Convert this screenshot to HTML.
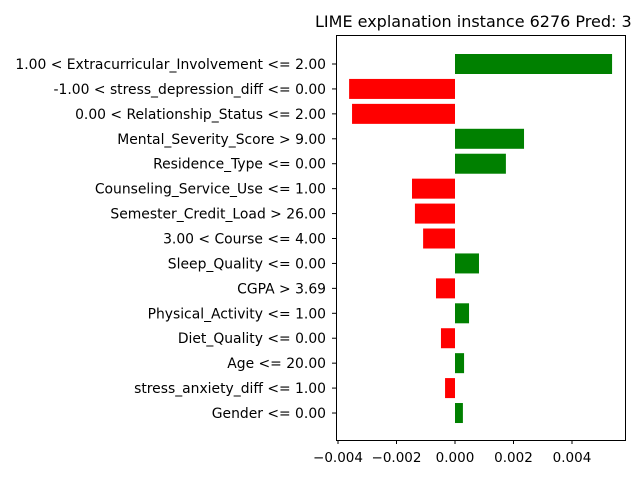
<!DOCTYPE html>
<html><head><meta charset="utf-8"><style>
body{margin:0;background:#fff;width:640px;height:480px;overflow:hidden}
svg text{font-family:"DejaVu Sans","Liberation Sans",sans-serif}
</style></head><body>
<svg id="chart" width="640" height="480">
<text x="315" y="27" font-size="16">LIME explanation instance 6276 Pred: 3</text>
<g id="bars"></g>
<g id="yt"></g>
<g id="xt"></g>
<rect x="336.5" y="35.5" width="289" height="405" fill="none" stroke="#000" stroke-width="1"/>
</svg>
<script>
const labels=["1.00 < Extracurricular_Involvement <= 2.00","-1.00 < stress_depression_diff <= 0.00","0.00 < Relationship_Status <= 2.00","Mental_Severity_Score > 9.00","Residence_Type <= 0.00","Counseling_Service_Use <= 1.00","Semester_Credit_Load > 26.00","3.00 < Course <= 4.00","Sleep_Quality <= 0.00","CGPA > 3.69","Physical_Activity <= 1.00","Diet_Quality <= 0.00","Age <= 20.00","stress_anxiety_diff <= 1.00","Gender <= 0.00"];
const values=[0.00537,-0.00362,-0.00352,0.00236,0.00174,-0.00147,-0.00137,-0.00109,0.00082,-0.00065,0.00048,-0.00048,0.00031,-0.00034,0.00027];
const xticks=[-0.004,-0.002,0,0.002,0.004];
const xtickLabels=["−0.004","−0.002","0.000","0.002","0.004"];
const NS="http://www.w3.org/2000/svg";
const x=v=>455+v*29250;
const y=i=>64+i*24.93;
const bh=20;
const gb=document.getElementById('bars'),gy=document.getElementById('yt'),gx=document.getElementById('xt');
values.forEach((v,i)=>{
 const r=document.createElementNS(NS,'rect');
 
 
 r.setAttribute('x',Math.min(x(0),x(v)));r.setAttribute('y',y(i)-bh/2);
 r.setAttribute('width',Math.abs(x(v)-x(0)));r.setAttribute('height',bh);
 r.setAttribute('fill',v>=0?'#008000':'#ff0000');gb.appendChild(r);
 const t=document.createElementNS(NS,'line');
 
 
 t.setAttribute('x1',332);t.setAttribute('x2',336);t.setAttribute('y1',y(i));t.setAttribute('y2',y(i));t.setAttribute('stroke','#000');gy.appendChild(t);
 const l=document.createElementNS(NS,'text');
 
 
 l.setAttribute('x',326);l.setAttribute('y',y(i)+5);l.setAttribute('text-anchor','end');l.setAttribute('font-size','13.9');
 l.textContent=labels[i];gy.appendChild(l);
});
xticks.forEach((v,i)=>{
 const t=document.createElementNS(NS,'line');
 
 
 t.setAttribute('x1',x(v));t.setAttribute('x2',x(v));t.setAttribute('y1',440);t.setAttribute('y2',444);t.setAttribute('stroke','#000');gx.appendChild(t);
 const l=document.createElementNS(NS,'text');
 
 
 l.setAttribute('x',x(v));l.setAttribute('y',462);l.setAttribute('text-anchor','middle');l.setAttribute('font-size','13.5');
 l.textContent=xtickLabels[i];gx.appendChild(l);
});
</script>
</body></html>
